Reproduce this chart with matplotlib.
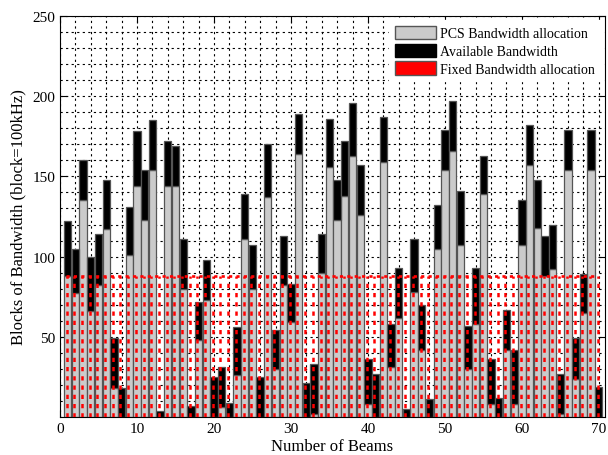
import numpy as np
import matplotlib
matplotlib.use("Agg")
import matplotlib.pyplot as plt
from matplotlib.patches import Patch

plt.rcParams['font.family'] = ['Liberation Serif', 'DejaVu Serif']

beams = np.arange(1, 71)
pcs = [88, 77, 135, 66, 82, 117, 18, 0, 101, 144,
       123, 154, 0, 144, 144, 80, 0, 48, 73, 0,
       6, 0, 26, 111, 80, 0, 137, 30, 82, 59,
       164, 0, 2, 90, 156, 123, 138, 163, 126, 8,
       0, 159, 31, 62, 0, 78, 42, 0, 105, 154,
       166, 107, 30, 58, 139, 8, 0, 42, 8, 107,
       157, 118, 88, 92, 2, 154, 24, 65, 154, 0]
available = [34, 28, 25, 34, 32, 31, 31, 18, 30, 34,
             31, 31, 4, 28, 25, 31, 7, 24, 25, 25,
             25, 9, 30, 28, 27, 25, 33, 24, 31, 24,
             25, 21, 31, 24, 30, 25, 34, 33, 31, 28,
             27, 28, 27, 31, 5, 33, 28, 11, 27, 25,
             31, 34, 27, 35, 24, 28, 12, 25, 34, 28,
             25, 30, 25, 28, 25, 25, 25, 24, 25, 19]
fixed_level = 88
legend_labels = ["PCS Bandwidth allocation", "Available Bandwidth", "Fixed Bandwidth allocation"]

fig = plt.figure(figsize=(6.08, 4.56), dpi=100)
ax = fig.add_axes([60/608, 38/456, (605-60)/608, (418-17)/456])

width = 0.95
ax.bar(beams, pcs, width=width, color='#cbcbcb', edgecolor='#555555', linewidth=0.9, zorder=2)
ax.bar(beams, available, bottom=pcs, width=width, color='black', edgecolor='#555555', linewidth=0.9, zorder=2)

fixed = np.full(len(beams), fixed_level)
xr = beams - 0.15
ax.vlines(xr, 0, fixed, colors='red', linestyles=(0, (1.7, 2.0)), linewidth=1.8, zorder=3)
ax.hlines(fixed_level, xr[0] - 0.1, xr[-1] + 0.1, colors='red', linestyles=(0, (1.2, 1.6)), linewidth=1.9, zorder=3)

ax.set_xlim(0, 70.8)
ax.set_ylim(0, 250)
ax.set_xticks(np.arange(0, 71, 10))
ax.set_xticks(np.arange(0, 71, 2), minor=True)
ax.set_yticks(np.arange(50, 251, 50))
ax.set_yticks(np.arange(0, 251, 10), minor=True)
ax.tick_params(which='both', direction='in', top=True, right=True, labelsize=11)
ax.tick_params(which='major', length=5)
ax.tick_params(which='minor', length=0)

ax.set_axisbelow(True)
ax.grid(True, which='both', color='black', linestyle=(0, (2, 3)), linewidth=0.8)

ax.set_xlabel("Number of Beams", fontsize=12, labelpad=2)
ax.set_ylabel("Blocks of Bandwidth (block=100kHz)", fontsize=12, labelpad=4)

handles = [Patch(facecolor='#cbcbcb', edgecolor='#555555'),
           Patch(facecolor='black', edgecolor='black'),
           Patch(facecolor='red', edgecolor='#555555')]
leg = ax.legend(handles, legend_labels, loc='upper right', fontsize=10,
                handlelength=3.0, handleheight=1.1, handletextpad=0.3,
                labelspacing=0.25, borderaxespad=0.3, fancybox=False,
                framealpha=1.0, edgecolor='white')
leg.set_zorder(5)

fig.savefig("out.png", dpi=100)
